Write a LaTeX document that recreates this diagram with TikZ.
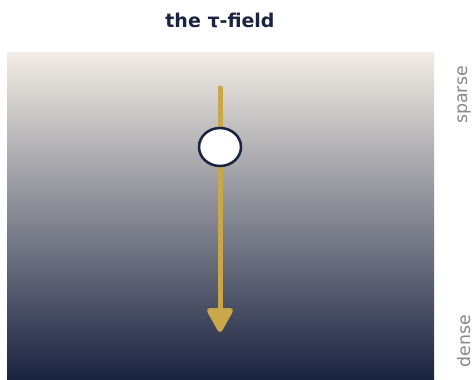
\documentclass[tikz,border=0pt]{standalone}
\usepackage{fontspec}
\setmainfont{DejaVu Sans}
\usetikzlibrary{arrows.meta,shapes.geometric}
\definecolor{cream}{RGB}{242,237,229}
\definecolor{navy}{RGB}{26,35,64}
\definecolor{gold}{RGB}{201,168,76}
\definecolor{sidegray}{RGB}{136,136,136}
\tikzset{
  field/.style={top color=cream,bottom color=navy,draw=none},
  flowline/.style={draw=gold,line width=3.75pt,line cap=round,-{Triangle[length=20pt,width=21pt,round]}},
  marker/.style={ellipse,draw=navy,line width=1.9pt,fill=white,minimum width=31.5pt,minimum height=28.5pt,inner sep=0pt},
  sidelabel/.style={text=sidegray,font=\fontsize{13}{15}\selectfont,rotate=90,inner sep=0pt},
  titlelabel/.style={text=navy,font=\bfseries\fontsize{14.25}{16}\selectfont,inner sep=0pt}
}
\begin{document}
\begin{tikzpicture}[x=0.75pt,y=-0.75pt]
\useasboundingbox (0,0) rectangle (473,379);
\fill[white] (0,0) rectangle (473,379);
\shade[field] (7,52) rectangle (434,379);
\node[titlelabel] (title) at (220,20) {the τ-field};
\coordinate (top) at (220,88);
\coordinate (bot) at (220,332);
\draw[flowline] (top) -- (bot);
\node[marker] (dot) at (220,147) {};
\node[sidelabel] (sparse) at (464,95) {sparse};
\node[sidelabel] (dense) at (464,341) {dense};
\end{tikzpicture}
\end{document}
